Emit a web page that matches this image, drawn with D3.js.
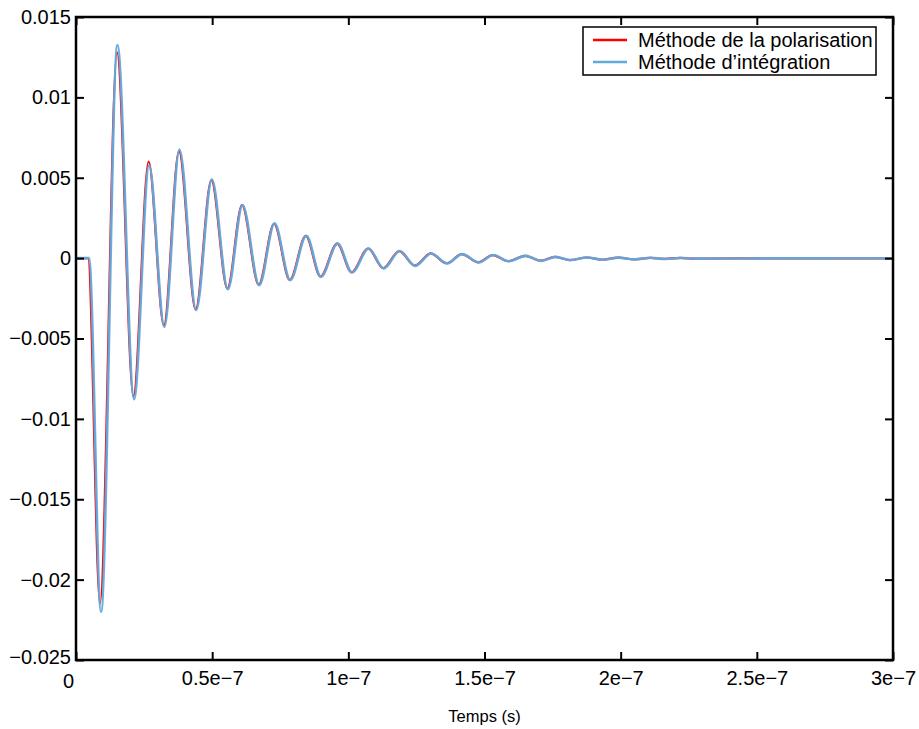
<!DOCTYPE html>
<html>
<head>
<meta charset="utf-8">
<script src="https://cdn.jsdelivr.net/npm/d3@7"></script>
<style>
  html, body { margin: 0; padding: 0; background: #fff; }
  svg { display: block; }
  text { font-family: "Liberation Sans", Arial, sans-serif; fill: #000; }
</style>
</head>
<body>
<div id="chart"></div>
<script>
// ---- Data (time in ns, value in signal units) ----
const xTickValues = [0, 50, 100, 150, 200, 250, 300];
const xTickLabels = ["0", "0.5e\u22127", "1e\u22127", "1.5e\u22127", "2e\u22127", "2.5e\u22127", "3e\u22127"];
const yTickValues = [0.015, 0.01, 0.005, 0, -0.005, -0.01, -0.015, -0.02, -0.025];
const yTickLabels = ["0.015", "0.01", "0.005", "0", "\u22120.005", "\u22120.01", "\u22120.015", "\u22120.02", "\u22120.025"];
const seriesNames = ["M\u00e9thode de la polarisation", "M\u00e9thode d\u2019int\u00e9gration"];
const seriesColors = ["#ff0000", "#62aadd"];

// Méthode de la polarisation (red)
const polTime = [0, 4.41, 8.82, 15.07, 21.10, 26.66, 32.28, 37.80, 43.94, 49.71, 55.59, 60.96, 67.10, 72.72, 78.50, 84.38,
  89.78, 95.89, 101.18, 107.28, 112.80, 118.68, 124.45, 130.22, 136.11, 141.62, 147.73, 153.02, 158.75, 164.89, 170.67,
  175.92, 181.44, 187.58, 193.20, 199.08, 204.97, 210.85, 216.36, 221.88, 227.76, 244.0, 300];
const polValue = [0, 0, -0.0215, 0.0128, -0.0086, 0.0060, -0.0042, 0.00665, -0.0032, 0.00485, -0.0019, 0.0033, -0.00166, 0.00214, -0.00136, 0.00138,
  -0.00115, 0.00090, -0.00088, 0.00060, -0.00063, 0.00044, -0.00047, 0.00029, -0.00032, 0.00025, -0.00026, 0.00019, -0.00019, 0.00014, -0.00016,
  0.00008, -0.00012, 0.00004, -0.00010, 0.00003, -0.00008, 0.00002, -0.00005, 0.00001, -0.00003, -0.00002, -0.00001];

// Méthode d'intégration (blue)
const intTime = [0, 4.78, 9.19, 15.22, 21.32, 26.84, 32.46, 37.98, 44.12, 49.89, 55.77, 61.14, 67.28, 72.90, 78.68, 84.56,
  89.96, 96.07, 101.36, 107.46, 112.98, 118.86, 124.63, 130.40, 136.29, 141.80, 147.91, 153.20, 158.93, 165.07, 170.85,
  176.10, 181.62, 187.76, 193.38, 199.26, 205.15, 211.03, 216.54, 222.06, 227.94, 244.1, 300];
const intValue = [0, 0, -0.0220, 0.01325, -0.00877, 0.00578, -0.00427, 0.00675, -0.00323, 0.00489, -0.00193, 0.00330, -0.00168, 0.00216, -0.00137, 0.00139,
  -0.00116, 0.00091, -0.00089, 0.00060, -0.00064, 0.00044, -0.00048, 0.00029, -0.00033, 0.00025, -0.00027, 0.00019, -0.00019, 0.00014, -0.00017,
  0.00008, -0.00012, 0.00004, -0.00010, 0.00003, -0.00008, 0.00002, -0.00005, 0.00001, -0.00003, -0.00002, -0.00001];

// ---- Layout ----
const W = 919, H = 729;
const m = { left: 76, right: 919 - 893, top: 17, bottom: 729 - 660 };
const iw = W - m.left - m.right, ih = H - m.top - m.bottom;

const svg = d3.select("#chart").append("svg").attr("width", W).attr("height", H);
const g = svg.append("g").attr("transform", `translate(${m.left},${m.top})`);

const x = d3.scaleLinear().domain([0, 300]).range([0, iw]);
const y = d3.scaleLinear().domain([-0.025, 0.015]).range([ih, 0]);

const fontSize = 20;
const tickLen = 8;

// Axes (inward ticks), mirrored on top/right
const xAxisB = d3.axisBottom(x).tickValues(xTickValues).tickSize(-tickLen).tickPadding(11)
  .tickFormat((d, i) => xTickLabels[i]);
const xAxisT = d3.axisTop(x).tickValues(xTickValues).tickSize(-tickLen).tickFormat("");
const yAxisL = d3.axisLeft(y).tickValues(yTickValues).tickSize(-tickLen).tickPadding(5)
  .tickFormat((d, i) => yTickLabels[i]);
const yAxisR = d3.axisRight(y).tickValues(yTickValues).tickSize(-tickLen).tickFormat("");

// Lines
const curve = d3.curveMonotoneX;
const line = d3.line().x(d => x(d[0])).y(d => y(d[1])).curve(curve);
const polData = polTime.map((t, i) => [t, polValue[i]]);
const intData = intTime.map((t, i) => [t, intValue[i]]);

g.append("clipPath").attr("id", "clip").append("rect").attr("width", iw).attr("height", ih);
const lines = g.append("g").attr("clip-path", "url(#clip)");
lines.append("path").datum(polData).attr("d", line).attr("fill", "none")
  .attr("stroke", seriesColors[0]).attr("stroke-width", 2.2).attr("stroke-linejoin", "round");
lines.append("path").datum(intData).attr("d", line).attr("fill", "none")
  .attr("stroke", seriesColors[1]).attr("stroke-width", 2.6).attr("stroke-linejoin", "round").attr("opacity", 0.95);

function styleAxis(sel) {
  sel.select(".domain").remove();
  sel.selectAll(".tick line").attr("stroke", "#000").attr("stroke-width", 2);
  sel.selectAll(".tick text").style("font-size", fontSize + "px").style("font-family", '"Liberation Sans", Arial, sans-serif');
}
const gxb = g.append("g").attr("transform", `translate(0,${ih})`).call(xAxisB); styleAxis(gxb);
gxb.selectAll(".tick text").filter((d, i) => i === 0).attr("dx", -8).attr("y", 14);
const gxt = g.append("g").call(xAxisT); styleAxis(gxt);
const gyl = g.append("g").call(yAxisL); styleAxis(gyl);
gyl.selectAll(".tick text").filter((d, i) => i === yTickValues.length - 1).attr("y", -3);
const gyr = g.append("g").attr("transform", `translate(${iw},0)`).call(yAxisR); styleAxis(gyr);

// Frame
g.append("rect").attr("width", iw).attr("height", ih).attr("fill", "none")
  .attr("stroke", "#000").attr("stroke-width", 2.5);

// X label
svg.append("text").attr("x", m.left + iw / 2).attr("y", 722).attr("text-anchor", "middle")
  .style("font-size", "16.5px").text("Temps (s)");

// Legend
const lg = svg.append("g").attr("transform", "translate(583,27)");
lg.append("rect").attr("width", 293).attr("height", 48).attr("fill", "#fff").attr("stroke", "#000").attr("stroke-width", 1.5);
seriesNames.forEach((name, i) => {
  const yy = 13 + i * 22;
  lg.append("line").attr("x1", 10).attr("x2", 44).attr("y1", yy).attr("y2", yy)
    .attr("stroke", seriesColors[i]).attr("stroke-width", 2.5);
  lg.append("text").attr("x", 55).attr("y", yy).attr("dy", "0.35em")
    .style("font-size", fontSize + "px").text(name);
});
</script>
</body>
</html>
